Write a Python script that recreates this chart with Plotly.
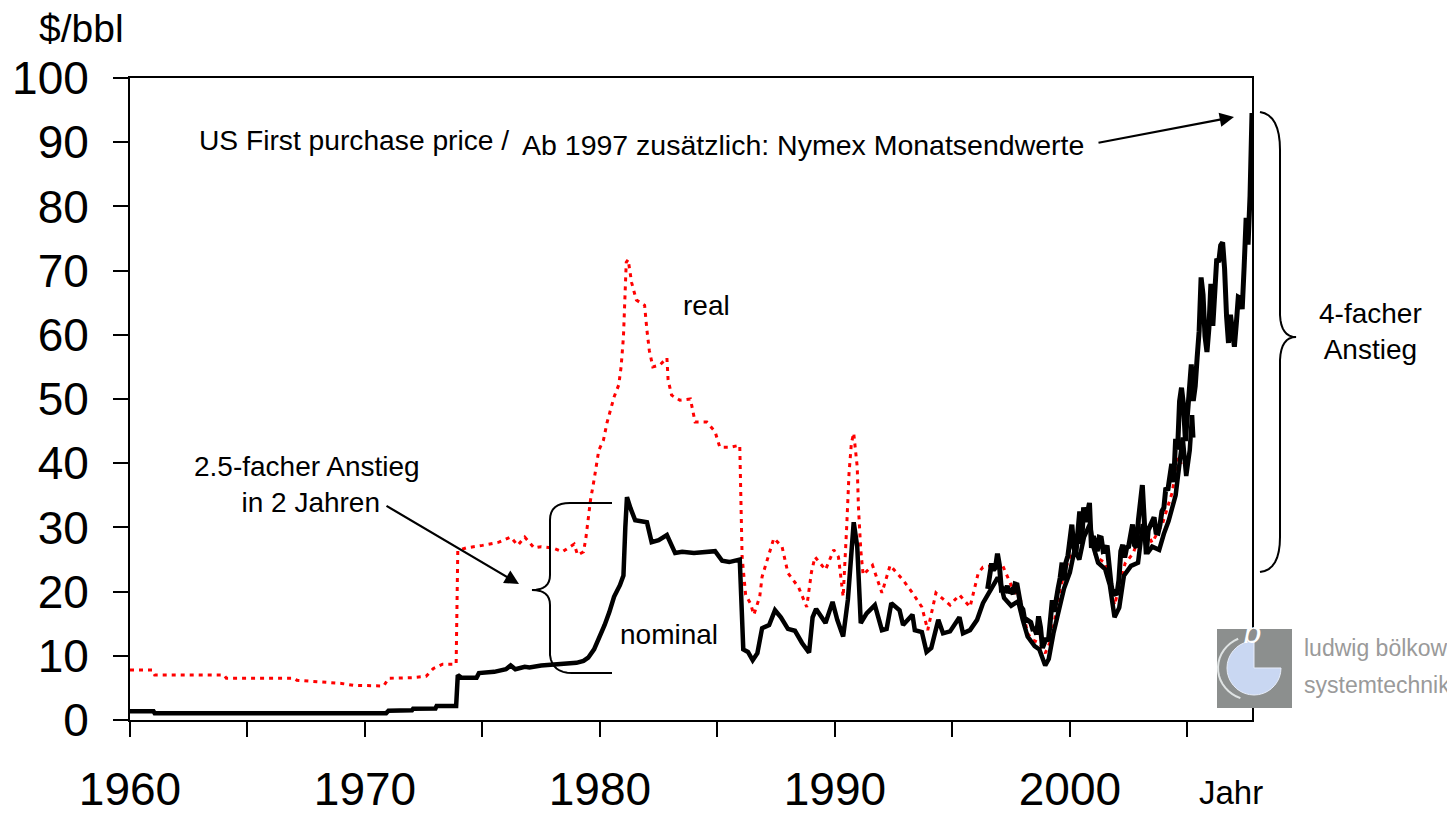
import math
import pandas as pd
import plotly.graph_objects as go

# ---------------- data ----------------
# US first purchase price, nominal $/bbl (decimal year, value)
nominal_x = [1960.0, 1961.0, 1961.05, 1970.9, 1971.0, 1972.0, 1972.05, 1973.0, 1973.05, 1973.88,
             1973.95, 1974.1, 1974.75, 1974.85, 1975.5, 1976.0, 1976.2, 1976.4, 1976.8, 1977.0,
             1977.5, 1978.0, 1978.5, 1979.0, 1979.3, 1979.5, 1979.75, 1980.0, 1980.2, 1980.4,
             1980.6, 1980.85, 1981.0, 1981.08, 1981.15, 1981.3, 1981.5, 1982.0, 1982.2, 1982.5,
             1982.85, 1983.2, 1983.5, 1984.0, 1984.5, 1984.9, 1985.2, 1985.5, 1985.95, 1986.1,
             1986.3, 1986.5, 1986.7, 1986.9, 1987.2, 1987.45, 1987.7, 1988.0, 1988.3, 1988.6,
             1988.9, 1989.05, 1989.2, 1989.6, 1989.9, 1990.1, 1990.35, 1990.55, 1990.8, 1990.95,
             1991.1, 1991.35, 1991.7, 1992.0, 1992.2, 1992.4, 1992.75, 1992.9, 1993.3, 1993.4,
             1993.7, 1993.9, 1994.1, 1994.25, 1994.4, 1994.6, 1994.9, 1995.3, 1995.45, 1995.75,
             1996.05, 1996.3, 1996.6, 1996.9, 1997.0, 1997.2, 1997.5, 1997.8, 1998.0, 1998.2,
             1998.5, 1998.7, 1998.95, 1999.1, 1999.3, 1999.5, 1999.75, 2000.0, 2000.2, 2000.4,
             2000.6, 2000.85, 2001.0, 2001.2, 2001.5, 2001.7, 2001.9, 2002.1, 2002.3, 2002.6,
             2002.9, 2003.1, 2003.3, 2003.5, 2003.8, 2004.0, 2004.2, 2004.5, 2004.8, 2004.95,
             2005.1, 2005.2, 2005.25]
nominal_y = [1.35, 1.35, 1.05, 1.05, 1.45, 1.5, 1.75, 1.8, 2.2, 2.2,
             7.0, 6.6, 6.6, 7.3, 7.5, 7.9, 8.5, 7.9, 8.3, 8.2,
             8.5, 8.6, 8.7, 8.9, 9.2, 9.7, 11.0, 12.9, 14.8, 16.8,
             19.2, 21.0, 22.5, 30.0, 34.7, 33.0, 31.1, 30.8, 27.7, 28.0,
             28.8, 26.0, 26.2, 26.0, 26.2, 26.3, 24.8, 24.6, 25.0, 11.0,
             10.6, 9.3, 10.4, 14.3, 14.8, 17.1, 16.0, 14.2, 13.9, 12.0,
             10.5, 16.0, 17.3, 15.1, 18.4, 15.6, 13.0, 18.7, 30.8, 27.0,
             15.1, 16.6, 17.9, 14.0, 14.2, 18.2, 17.1, 14.8, 16.4, 14.0,
             13.7, 10.6, 11.2, 13.5, 15.6, 13.5, 13.8, 16.0, 13.5, 14.0,
             15.6, 18.2, 20.2, 22.0, 22.0, 19.0, 17.8, 18.5, 15.5, 13.0,
             11.5, 11.0, 8.5, 9.5, 13.5, 16.5, 20.5, 23.0, 26.5, 25.0,
             28.5, 30.5, 27.0, 24.5, 23.5, 21.0, 16.0, 17.5, 22.5, 24.0,
             24.5, 30.5, 26.0, 27.0, 26.5, 29.0, 31.0, 35.0, 44.0, 38.0,
             42.0, 47.5, 44.0]

# real price, $/bbl (decimal year, value)
real_x = [1960.0, 1960.95, 1961.05, 1964.0, 1964.1, 1967.0, 1967.1, 1968.1, 1969.0, 1969.5,
          1970.8, 1971.0, 1972.0, 1972.6, 1972.9, 1973.3, 1973.88, 1973.95, 1974.3, 1975.0,
          1975.7, 1976.2, 1976.5, 1976.8, 1977.2, 1977.5, 1978.0, 1978.4, 1978.9, 1979.05,
          1979.3, 1979.4, 1979.5, 1979.6, 1979.75, 1979.85, 1979.95, 1980.15, 1980.3, 1980.45,
          1980.6, 1980.8, 1980.9, 1981.0, 1981.05, 1981.12, 1981.2, 1981.35, 1981.55, 1981.9,
          1982.0, 1982.1, 1982.25, 1982.55, 1982.85, 1982.9, 1983.05, 1983.4, 1983.85, 1984.05,
          1984.55, 1984.9, 1985.1, 1985.55, 1985.95, 1986.0, 1986.05, 1986.2, 1986.4, 1986.55,
          1986.8, 1986.9, 1987.1, 1987.4, 1987.75, 1988.0, 1988.45, 1988.8, 1989.0, 1989.15,
          1989.6, 1989.95, 1990.15, 1990.35, 1990.5, 1990.6, 1990.7, 1990.8, 1990.95, 1991.0,
          1991.1, 1991.2, 1991.6, 1992.0, 1992.35, 1992.9, 1993.3, 1993.7, 1993.95, 1994.3,
          1994.9, 1995.3, 1995.75, 1996.1, 1996.3, 1996.6, 1996.95, 1997.1, 1997.5, 1997.9,
          1998.2, 1998.4, 1998.7, 1998.95, 1999.2, 1999.6, 1999.9, 2000.3, 2000.85, 2001.1,
          2001.5, 2001.9, 2002.35, 2002.7, 2003.1, 2003.5, 2003.95, 2004.35, 2004.6, 2004.8]
real_y = [7.8, 7.8, 7.0, 7.0, 6.5, 6.5, 6.2, 5.9, 5.7, 5.4,
          5.3, 6.5, 6.6, 6.8, 8.0, 8.7, 8.7, 26.4, 26.8, 27.2,
          27.7, 28.5, 27.2, 28.5, 26.8, 27.0, 26.8, 26.2, 27.4, 25.7,
          26.2, 28.3, 31.6, 34.3, 37.4, 39.4, 42.0, 43.6, 46.3, 48.3,
          50.3, 52.2, 55.0, 59.7, 65.4, 71.3, 71.7, 68.1, 65.4, 64.6,
          60.7, 57.6, 55.0, 55.3, 56.4, 53.0, 50.6, 49.8, 50.0, 46.4,
          46.4, 44.9, 42.5, 42.5, 42.8, 34.7, 25.4, 19.5, 18.2, 16.4,
          19.2, 22.3, 24.6, 28.3, 27.0, 22.9, 20.7, 17.6, 23.0, 25.4,
          23.4, 26.5, 25.4, 19.2, 30.0, 38.4, 43.1, 44.7, 39.4, 33.2,
          26.5, 22.6, 24.1, 19.8, 24.1, 21.8, 19.8, 17.6, 14.0, 19.8,
          17.9, 19.5, 17.6, 22.9, 23.8, 24.0, 24.6, 24.4, 21.0, 18.7,
          13.5, 12.5, 12.0, 10.4, 12.5, 20.7, 24.5, 27.5, 30.0, 25.4,
          24.5, 17.9, 24.4, 26.0, 30.5, 27.6, 30.7, 35.4, 41.0, 39.4]

# Nymex month-end values, Jul 1996 .. Oct 2007
nymex_start = "1996-07"
nymex_y = [20.42, 22.25, 24.38, 23.35, 23.75, 25.92,
           24.15, 20.30, 20.41, 20.21, 20.88, 19.80, 20.14, 19.61, 21.18, 21.08, 19.15, 17.64,
           17.21, 15.44, 15.61, 15.39, 15.20, 14.18, 14.21, 13.34, 16.14, 14.42, 11.22, 12.05,
           12.75, 12.27, 16.76, 18.66, 16.84, 19.29, 20.53, 22.10, 24.51, 21.75, 24.59, 25.60,
           27.64, 30.43, 26.90, 25.74, 29.01, 32.50, 27.43, 33.12, 30.84, 32.70, 33.82, 26.80,
           28.66, 27.39, 26.29, 28.46, 28.37, 26.25, 26.35, 27.20, 23.43, 21.18, 19.44, 19.84,
           19.48, 21.74, 26.31, 27.29, 25.31, 26.86, 27.02, 28.98, 30.45, 27.22, 26.89, 31.20,
           33.51, 36.60, 31.04, 25.80, 29.56, 30.19, 30.54, 31.57, 29.20, 29.11, 30.41, 32.52,
           33.05, 36.16, 35.76, 37.38, 39.88, 37.05, 43.80, 42.12, 49.64, 51.76, 49.13, 43.45,
           48.20, 51.75, 55.40, 49.72, 51.97, 56.50, 60.57, 68.94, 66.24, 59.76, 57.32, 61.04,
           67.92, 61.41, 66.63, 71.88, 71.29, 73.93, 74.40, 70.26, 62.91, 58.73, 63.13, 61.05,
           58.14, 61.79, 65.87, 65.71, 64.01, 70.68, 78.21, 74.04, 81.66, 94.53]
nymex_dates = pd.date_range(nymex_start, periods=len(nymex_y), freq="MS")
nymex_x = [d.year + (d.month - 1) / 12 for d in nymex_dates]

x_tick_vals = [1960, 1965, 1970, 1975, 1980, 1985, 1990, 1995, 2000, 2005]
x_tick_text = ["1960", "", "1970", "", "1980", "", "1990", "", "2000", ""]
y_tick_vals = [0, 10, 20, 30, 40, 50, 60, 70, 80, 90, 100]

# ---------------- layout helpers ----------------
# page has an 8px body margin: figure is offset by 8px; positions below are page pixels
OFF = 8
W, H = 1455 - OFF, 815 - OFF
L, R, T, B = 130, 1252, 78, 720   # plot area in page pixels


def px(x):
    return (x - L) / (R - L)


def py(y):
    return (B - y) / (B - T)


FONT = "Liberation Sans, Arial, sans-serif"

fig = go.Figure()
fig.add_trace(go.Scatter(x=real_x, y=real_y, mode="lines", name="real",
                         line=dict(color="#ff0000", width=3, dash="4px,5px")))
fig.add_trace(go.Scatter(x=nominal_x, y=nominal_y, mode="lines", name="nominal",
                         line=dict(color="black", width=4.5)))
fig.add_trace(go.Scatter(x=nymex_x, y=nymex_y, mode="lines", name="Nymex",
                         line=dict(color="black", width=5)))

annotations = []


def text(x, y, s, size=28, xanchor="left", color="black", yanchor="middle"):
    annotations.append(dict(x=px(x), y=py(y), xref="paper", yref="paper", text=s,
                            showarrow=False, xanchor=xanchor, yanchor=yanchor,
                            font=dict(family=FONT, size=size, color=color)))


text(37, 28, "$/bbl", size=39)
text(197, 140, "US First purchase price /", size=28.2)
text(520, 145, "Ab 1997 zusätzlich: Nymex Monatsendwerte", size=28.5)
text(706, 305, "real", xanchor="center")
text(618, 634, "nominal")
text(192, 484, "2.5-facher Anstieg<br> in 2 Jahren")
text(1317, 331, "4-facher<br>Anstieg")
text(1231, 792, "Jahr", size=33, xanchor="center")
text(1302, 648, "ludwig bölkow", size=23, color="#9a9a9a")
text(1302, 685, "systemtechnik", size=23, color="#9a9a9a")

# arrows
for (hx, hy, tx, ty) in [(1234, 117, 1097, 143), (519, 584, 385, 505)]:
    annotations.append(dict(x=px(hx), y=py(hy), xref="paper", yref="paper",
                            ax=tx - hx, ay=ty - hy, text="", showarrow=True,
                            arrowhead=2, arrowsize=1.3, arrowwidth=2.2, arrowcolor="black"))

shapes = []


def path_from(points):
    return "M " + " L ".join(f"{px(a):.5f},{py(b):.5f}" for a, b in points)


def curve(p0, p1, p2, n=8):
    pts = []
    for i in range(n + 1):
        t = i / n
        x = (1 - t) ** 2 * p0[0] + 2 * (1 - t) * t * p1[0] + t ** 2 * p2[0]
        y = (1 - t) ** 2 * p0[1] + 2 * (1 - t) * t * p1[1] + t ** 2 * p2[1]
        pts.append((x, y))
    return pts


# left brace (opening to the right, tip left)
lb = []
lb += [(612, 503), (570, 503)]
lb += curve((570, 503), (550, 503), (550, 520))[1:]
lb += [(550, 575)]
lb += curve((550, 575), (550, 590), (532, 590))[1:]
lb += curve((532, 590), (550, 590), (550, 605))[1:]
lb += [(550, 655)]
lb += curve((550, 655), (552, 673), (572, 673))[1:]
lb += [(612, 673)]
shapes.append(dict(type="path", xref="paper", yref="paper", path=path_from(lb),
                   line=dict(color="black", width=2)))

# right brace (tip right)
rb = []
rb += curve((1260, 112), (1280, 115), (1280, 150))
rb += [(1280, 315)]
rb += curve((1280, 315), (1281, 337), (1296, 337))[1:]
rb += curve((1296, 337), (1281, 337), (1280, 360))[1:]
rb += [(1280, 537)]
rb += curve((1280, 537), (1280, 570), (1260, 572))[1:]
shapes.append(dict(type="path", xref="paper", yref="paper", path=path_from(rb),
                   line=dict(color="black", width=2)))

# logo
shapes.append(dict(type="rect", xref="paper", yref="paper", x0=px(1217), x1=px(1292),
                   y0=py(708), y1=py(629), fillcolor="#8c8f8e", line=dict(width=0)))
cx, cy, rr = 1254, 668, 27
pie = [(cx, cy)]
for i in range(0, 271, 10):
    a = math.radians(i)
    pie.append((cx + rr * math.cos(a), cy + rr * math.sin(a)))
shapes.append(dict(type="path", xref="paper", yref="paper", path=path_from(pie) + " Z",
                   fillcolor="#c9d7f2", line=dict(color="#e8eefa", width=1)))
arc = []
for i in range(110, 250, 8):
    a = math.radians(i)
    arc.append((cx - 2 + (rr + 7) * math.cos(a), cy + (rr + 5) * math.sin(a)))
shapes.append(dict(type="path", xref="paper", yref="paper", path=path_from(arc),
                   line=dict(color="#dfe3e3", width=2)))
annotations.append(dict(x=px(1264), y=py(652), xref="paper", yref="paper",
                        text="<i>b</i>", showarrow=False,
                        font=dict(family="DejaVu Serif", size=30, color="white")))

fig.update_layout(
    width=W, height=H,
    margin=dict(l=L - OFF, r=W - (R - OFF), t=T - OFF, b=H - (B - OFF), autoexpand=False),
    paper_bgcolor="white", plot_bgcolor="white",
    showlegend=False,
    annotations=annotations,
    shapes=shapes,
    xaxis=dict(range=[1960, 2007.75], tickmode="array", tickvals=x_tick_vals,
               ticktext=x_tick_text, ticks="outside", ticklen=15, tickwidth=2,
               tickcolor="black", showline=True, linewidth=2, linecolor="black",
               mirror=True, showgrid=False, zeroline=False, ticklabelstandoff=13,
               automargin=False,
               tickfont=dict(family=FONT, size=46, color="black")),
    yaxis=dict(range=[0, 100], tickmode="array", tickvals=y_tick_vals,
               ticks="outside", ticklen=15, tickwidth=2, tickcolor="black",
               showline=True, linewidth=2, linecolor="black", mirror=True,
               showgrid=False, zeroline=False, ticklabelstandoff=15,
               automargin=False,
               tickfont=dict(family=FONT, size=46, color="black")),
)

fig.write_html("out.html")
